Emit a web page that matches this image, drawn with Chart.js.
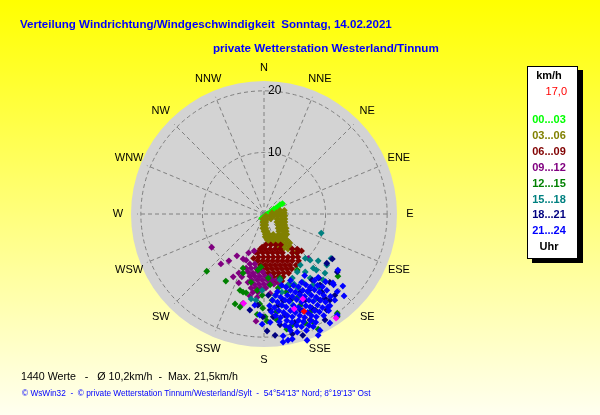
<!DOCTYPE html>
<html>
<head>
<meta charset="utf-8">
<script src="https://cdn.jsdelivr.net/npm/chart.js@4.4.0/dist/chart.umd.min.js"></script>
<style>
  html, body { margin: 0; padding: 0; background: #ffff00; }
  canvas { display: block; }
</style>
</head>
<body>
<canvas id="windChart" width="600" height="415"></canvas>
<script>
// Windvektoren je 3-Stunden-Block: [Ost, Nord] in km/h
const wind0003 = [[-0.4,-0.7],[-0.2,-0.6],[0.0,-0.5],[0.3,-0.2],[0.6,0.0],[1.0,0.3],[1.3,0.5],[1.6,0.8],[2.0,1.0],[2.3,1.2],[2.6,1.5],[3.0,1.7]];

const wind0306 = [
  [2.6,0.6],[3.3,0.6],
  [1.3,0.2],[2.0,0.2],[2.6,0.2],[3.3,0.2],
  [0.3,-0.3],[1.0,-0.3],[1.6,-0.3],[2.3,-0.3],[2.9,-0.3],[3.4,-0.3],
  [-0.2,-0.8],[0.5,-0.8],[1.1,-0.8],[2.1,-0.8],[2.8,-0.8],[3.4,-0.8],
  [-0.2,-1.3],[0.3,-1.3],[2.1,-1.3],[2.8,-1.3],[3.4,-1.3],
  [-0.2,-1.8],[0.3,-1.8],[2.3,-1.8],[2.9,-1.8],[3.4,-1.8],
  [-0.2,-2.3],[0.3,-2.3],[2.3,-2.3],[2.9,-2.3],[3.6,-2.3],
  [0.0,-2.8],[0.5,-2.8],[2.4,-2.8],[3.1,-2.8],[3.6,-2.8],
  [0.2,-3.3],[0.8,-3.3],[1.5,-3.3],[2.4,-3.3],[3.1,-3.3],[3.7,-3.3],
  [0.2,-3.7],[0.8,-3.7],[1.5,-3.7],[2.1,-3.7],[2.8,-3.7],[3.4,-3.7],
  [0.5,-4.2],[1.1,-4.2],[1.8,-4.2],[2.4,-4.2],[3.1,-4.2],[3.7,-4.2],
  [1.0,-4.7],[1.6,-4.7],[2.3,-4.7],[2.9,-4.7],[3.6,-4.7],[4.2,-4.7],
  [2.1,-5.2],[2.8,-5.2],[3.4,-5.2],[4.1,-5.2],
  [3.1,-5.7],[3.9,-5.7],[5.2,-6.2]
];

const wind0609 = [
  [0.3,-5.0],[1.1,-5.0],[1.9,-5.0],[2.7,-5.0],
  [-0.6,-5.7],[0.2,-5.7],[1.0,-5.7],[1.8,-5.7],[2.6,-5.7],[4.6,-5.7],[5.4,-5.7],
  [-1.0,-6.3],[-0.2,-6.3],[0.6,-6.3],[1.4,-6.3],[2.2,-6.3],[3.0,-6.3],[4.6,-6.3],[5.4,-6.3],
  [-0.9,-7.0],[-0.1,-7.0],[0.7,-7.0],[1.5,-7.0],[2.3,-7.0],[3.1,-7.0],[3.9,-7.0],[4.7,-7.0],[5.5,-7.0],
  [-1.0,-7.6],[-0.2,-7.6],[0.6,-7.6],[1.4,-7.6],[2.2,-7.6],[3.0,-7.6],[3.8,-7.6],[4.6,-7.6],[5.6,-7.6],
  [-0.6,-8.3],[0.2,-8.3],[1.0,-8.3],[1.8,-8.3],[2.6,-8.3],[3.4,-8.3],[4.2,-8.3],[5.2,-8.3],
  [-0.3,-8.9],[0.5,-8.9],[1.3,-8.9],[2.1,-8.9],[2.9,-8.9],[3.7,-8.9],[4.5,-8.9],
  [0.0,-9.6],[0.8,-9.6],[1.6,-9.6],[2.4,-9.6],[3.2,-9.6],[4.0,-9.6],
  [0.7,-10.2],[1.5,-10.2],[2.3,-10.2],[3.1,-10.2],
  [1.3,-10.9],[2.1,-10.9],[2.9,-10.9],
  [-1.4,-6.2],[-0.3,-5.4],[6.1,-6.0],[-1.7,-7.2]
];

const wind0912 = [
  [-8.5,-5.4],[-7.0,-8.1],[-5.7,-7.6],[-4.4,-6.8],[-2.9,-7.5],[-1.6,-6.0],[-3.4,-7.3],[-4.1,-9.6],
  [-5.0,-10.2],[-4.1,-11.2],[-2.6,-11.1],[-1.8,-9.6],[-3.6,-10.2],[7.2,-7.2],[-2.5,-6.3],
  [-2.3,-8.1],[-1.5,-8.1],
  [-2.9,-8.8],[-2.1,-8.8],[-1.3,-8.8],
  [-2.6,-9.4],[-1.0,-9.4],[-0.2,-9.4],
  [-2.3,-10.1],[-1.5,-10.1],[-0.7,-10.1],[0.2,-10.1],[1.0,-10.1],
  [-2.0,-10.7],[-1.1,-10.7],[-0.3,-10.7],[0.5,-10.7],[1.3,-10.7],[2.1,-10.7],
  [-1.6,-11.4],[-0.8,-11.4],[0.0,-11.4],[0.8,-11.4],[1.6,-11.4],[2.6,-11.4],
  [-2.1,-12.0],[-1.3,-12.0],[-0.5,-12.0],[0.3,-12.0],
  [-1.8,-12.7],[-1.0,-12.7],[-2.3,-13.3],
  [-1.1,-13.5],[1.0,-12.9],[-3.4,-14.5],[-1.3,-17.4]
];

const wind1215 = [
  [-9.3,-9.3],[-6.2,-10.9],[-3.4,-8.8],[-3.4,-9.6],[-2.1,-11.1],[-3.9,-12.4],[-3.4,-12.7],[-2.9,-12.8],
  [-1.0,-9.1],[-0.5,-8.6],[-1.1,-12.4],[-4.7,-14.6],[-3.9,-15.1],[-1.1,-16.3],[-0.7,-14.6],[0.2,-16.7],
  [0.5,-17.4],[3.7,-18.7],[6.7,-17.7],[8.8,-18.7],[11.9,-16.1],[11.9,-16.7],[12.0,-10.1],[5.4,-9.1],
  [1.0,-11.5],[2.3,-12.0],[3.6,-12.7],[-0.3,-13.2],[1.3,-14.0],[2.9,-14.8],[4.6,-13.7],[2.0,-15.9],
  [4.2,-11.5],[0.7,-10.4],[2.6,-10.4],[-0.2,-15.3],[2.1,-17.2],[4.6,-18.0],[8.0,-17.6],[5.5,-13.5],
  [5.9,-14.8],[7.5,-15.9]
];

const wind1518 = [
  [9.3,-3.1],[7.5,-7.5],[8.8,-7.6],[10.9,-7.2],[9.9,-9.6],[9.6,-10.7],[8.0,-8.8],[5.9,-8.3],
  [6.7,-9.4],[8.5,-9.1],[5.4,-9.4],[9.1,-12.0],[6.3,-11.1],[4.6,-10.4],[7.5,-10.4],[5.5,-12.0],
  [3.9,-11.5],[7.2,-12.7],[8.5,-13.7],[5.9,-13.3],[2.9,-12.7],
  [-2.1,-13.8],[-1.3,-14.0],[-0.3,-12.4],[1.8,-13.2],[4.7,-14.8],[6.7,-7.2],[8.0,-11.5],
  [10.2,-8.3],[4.9,-11.4],[2.6,-10.7]
];

const wind1821 = [
  [11.1,-7.3],[10.2,-8.0],[8.9,-10.4],[11.9,-9.4],[7.8,-10.7],[10.7,-11.1],[7.3,-12.4],[9.4,-12.7],
  [0.5,-19.0],[4.6,-19.5],[2.6,-18.0],[-2.3,-15.6],[1.5,-16.7],[-0.2,-16.7],[7.8,-15.3],[9.1,-14.0],
  [10.2,-15.6],[3.1,-14.0],[5.9,-12.7],[11.5,-13.2],[9.9,-13.7],[4.2,-14.0],[5.9,-15.6],[7.5,-17.2],
  [3.4,-16.4],[5.0,-17.6],[6.7,-14.0],[8.3,-15.6],[2.3,-14.8],[1.0,-15.6],[9.9,-17.2],[9.1,-11.5],
  [10.7,-14.0],[0.7,-13.2],[-1.0,-14.8],[6.3,-19.7],[1.8,-19.7]
];

const wind2124 = [
  [6.6,-10.0],[8.8,-10.3],
  [4.3,-10.8],[6.1,-11.1],[8.2,-10.8],[10.0,-11.0],
  [2.9,-11.6],[3.6,-11.9],[4.8,-11.6],[5.6,-11.8],[6.8,-11.5],[7.5,-11.9],[8.7,-11.6],[9.5,-11.8],[11.3,-11.5],
  [2.2,-12.6],[4.3,-12.4],[5.1,-12.7],[6.3,-12.4],[7.1,-12.6],[8.2,-12.3],[9.0,-12.7],[10.2,-12.4],[11.9,-12.6],
  [1.9,-13.2],[2.7,-13.5],[3.8,-13.2],[4.6,-13.4],[5.8,-13.1],[6.6,-13.4],[7.7,-13.2],[8.5,-13.5],[9.7,-13.2],[10.8,-13.4],
  [1.4,-14.0],[2.2,-14.3],[3.4,-14.0],[4.1,-14.2],[5.3,-13.9],[6.1,-14.3],[7.3,-14.0],[8.0,-14.2],[9.2,-14.0],[10.0,-14.3],[11.5,-14.0],
  [0.9,-14.9],[1.7,-15.2],[2.9,-14.8],[3.6,-15.1],[4.8,-14.9],[5.6,-15.2],[6.8,-14.9],[7.5,-15.1],[8.7,-14.8],[9.5,-15.2],[10.7,-14.9],
  [1.2,-15.9],[2.4,-15.7],[3.2,-16.0],[4.3,-15.7],[5.1,-16.0],[6.3,-15.7],[7.1,-16.0],[8.2,-15.7],[9.0,-15.9],[10.5,-15.7],
  [1.9,-16.5],[2.7,-16.8],[3.8,-16.5],[4.6,-16.7],[5.8,-16.5],[6.6,-16.8],[7.7,-16.5],[8.5,-16.7],[9.7,-16.5],
  [2.5,-17.5],[3.7,-17.3],[4.5,-17.6],[5.6,-17.3],[6.4,-17.5],[7.6,-17.3],[8.4,-17.6],
  [3.4,-18.1],[4.1,-18.4],[5.3,-18.1],[6.1,-18.3],[7.3,-18.1],[8.0,-18.3],
  [4.3,-18.9],[5.4,-19.2],[6.9,-18.9],
  [12.0,-9.1],[11.2,-11.2],[12.8,-11.7],[13.0,-13.3],[11.9,-16.4],[10.7,-17.7],[9.1,-18.9],[8.8,-19.7],
  [7.0,-20.5],[4.6,-20.3],[3.9,-20.5],[3.1,-20.8],[3.1,-19.8],[-1.5,-14.8],[-0.7,-16.4],[-0.3,-17.9],
  [1.0,-17.6],[10.4,-15.1]
];

// Spitzenwerte (magenta) und aktueller Wert (rot)
const windSpitzen = [[6.3,-13.8],[4.9,-15.4],[11.7,-16.9],[-3.3,-14.5]];
const windAktuell = [[6.5,-15.8]];

const timeBins = ['00...03','03...06','06...09','09...12','12...15','15...18','18...21','21...24'];
const binColors = ['#00ff00','#808000','#800000','#800080','#008000','#008080','#000080','#0000ff'];
const compassLabels = ['N','NNE','NE','ENE','E','ESE','SE','SSE','S','SSW','SW','WSW','W','WNW','NW','NNW'];
const ringValues = [10, 20];
const maxKmh = 21.6;
const currentText = '17,0';

const binData = [wind0003, wind0306, wind0609, wind0912, wind1215, wind1518, wind1821, wind2124];

function toPoints(arr) {
  return arr.map(p => ({ x: p[0], y: p[1] }));
}

const datasets = binData.map((arr, i) => ({
  label: timeBins[i],
  data: toPoints(arr),
  backgroundColor: binColors[i],
  order: 10 - i
}));
datasets.push({ label: 'Spitzen', data: toPoints(windSpitzen), backgroundColor: '#ff00ff', order: 1 });
datasets.push({ label: 'aktuell', data: toPoints(windAktuell), backgroundColor: '#ff0000', order: 0 });

// text scaled to a given width (the original uses bitmap fonts)
function fitText(ctx, text, x, y, width, weight, color, align) {
  ctx.font = weight + ' 12px Arial';
  const w = ctx.measureText(text).width;
  const size = 12 * width / w;
  ctx.font = weight + ' ' + size.toFixed(2) + 'px Arial';
  ctx.fillStyle = color;
  ctx.textAlign = align || 'left';
  ctx.textBaseline = 'middle';
  ctx.fillText(text, x, y);
}

const windRosePlugin = {
  id: 'windRose',
  beforeDraw(chart) {
    const ctx = chart.ctx;
    const xs = chart.scales.x, ys = chart.scales.y;
    const cx = xs.getPixelForValue(0), cy = ys.getPixelForValue(0);
    const r = v => xs.getPixelForValue(v) - cx;

    ctx.save();
    const grad = ctx.createLinearGradient(0, 0, 0, chart.height);
    grad.addColorStop(0, '#ffff00');
    grad.addColorStop(1, '#fffff0');
    ctx.fillStyle = grad;
    ctx.fillRect(0, 0, chart.width, chart.height);

    // grey disc
    ctx.beginPath();
    ctx.arc(cx, cy, r(maxKmh), 0, Math.PI * 2);
    ctx.fillStyle = '#d3d3d3';
    ctx.fill();

    // dashed grid
    ctx.strokeStyle = '#808080';
    ctx.lineWidth = 1;
    ctx.setLineDash([4, 3]);
    ringValues.forEach(v => {
      ctx.beginPath();
      ctx.arc(cx, cy, r(v), 0, Math.PI * 2);
      ctx.stroke();
    });
    for (let i = 0; i < 16; i++) {
      const a = i * Math.PI / 8;
      ctx.beginPath();
      ctx.moveTo(cx, cy);
      ctx.lineTo(cx + Math.sin(a) * r(20.6), cy - Math.cos(a) * r(20.6));
      ctx.stroke();
    }
    ctx.setLineDash([]);

    // ring labels
    ctx.font = '12px Arial';
    ctx.fillStyle = '#000';
    ctx.textAlign = 'left';
    ctx.textBaseline = 'middle';
    ringValues.forEach(v => ctx.fillText(String(v), cx + 4, cy - r(v)));

    // compass labels
    ctx.font = '11px Arial';
    ctx.textAlign = 'center';
    compassLabels.forEach((lab, i) => {
      const a = i * Math.PI / 8;
      const rr = r(maxKmh) + 13;
      ctx.fillText(lab, cx + Math.sin(a) * rr, cy - Math.cos(a) * rr);
    });
    ctx.restore();
  },
  afterDraw(chart) {
    const ctx = chart.ctx;
    ctx.save();
    fitText(ctx, 'Verteilung Windrichtung/Windgeschwindigkeit  Sonntag, 14.02.2021', 20, 25, 372, 'bold', '#0000ff');
    fitText(ctx, 'private Wetterstation Westerland/Tinnum', 213, 49, 226, 'bold', '#0000ff');
    fitText(ctx, '1440 Werte   -   Ø 10,2km/h  -  Max. 21,5km/h', 21, 377, 217, 'normal', '#000');
    fitText(ctx, '© WsWin32  -  © private Wetterstation Tinnum/Westerland/Sylt  -  54°54\'13\'\' Nord; 8°19\'13\'\' Ost', 22, 394, 349, 'normal', '#0000ff');

    // legend box
    ctx.fillStyle = '#000';
    ctx.fillRect(532, 70, 51, 193);
    ctx.fillStyle = '#fff';
    ctx.fillRect(527, 66, 51, 193);
    ctx.strokeStyle = '#000';
    ctx.lineWidth = 1;
    ctx.strokeRect(527.5, 66.5, 50, 192);

    ctx.textBaseline = 'middle';
    ctx.textAlign = 'center';
    ctx.font = 'bold 11px Arial';
    ctx.fillStyle = '#000';
    ctx.fillText('km/h', 549, 76);
    ctx.font = '11px Arial';
    ctx.fillStyle = '#ff0000';
    ctx.textAlign = 'right';
    ctx.fillText(currentText, 567, 92);
    ctx.textAlign = 'center';
    ctx.font = 'bold 11px Arial';
    timeBins.forEach((t, i) => {
      ctx.fillStyle = binColors[i];
      ctx.fillText(t, 549, 120 + i * 15.9);
    });
    ctx.fillStyle = '#000';
    ctx.fillText('Uhr', 549, 247);
    ctx.restore();
  }
};

new Chart(document.getElementById('windChart'), {
  type: 'scatter',
  data: { datasets: datasets },
  options: {
    responsive: false,
    animation: false,
    events: [],
    layout: { padding: { left: 131, right: 203, top: 81, bottom: 68 } },
    elements: {
      point: { pointStyle: 'rectRot', radius: 3.4, borderWidth: 0 }
    },
    scales: {
      x: { type: 'linear', min: -maxKmh, max: maxKmh, display: false },
      y: { type: 'linear', min: -maxKmh, max: maxKmh, display: false }
    },
    plugins: {
      legend: { display: false },
      tooltip: { enabled: false }
    }
  },
  plugins: [windRosePlugin]
});
</script>
</body>
</html>
